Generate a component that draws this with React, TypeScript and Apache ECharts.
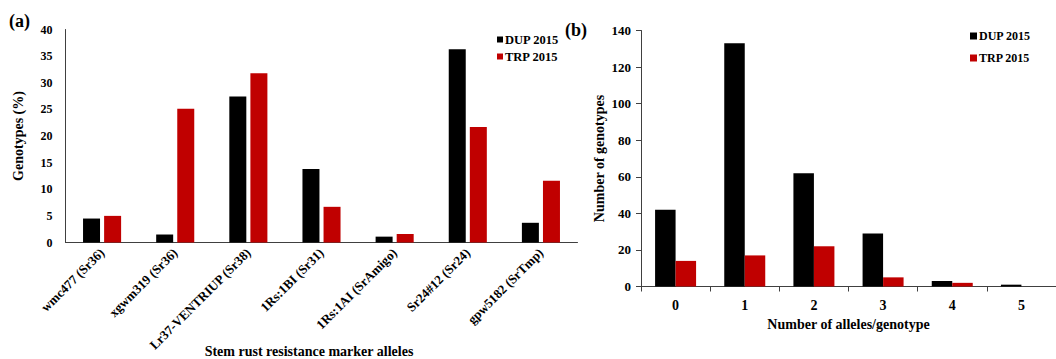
import React, { useEffect, useRef } from "react";
import * as echarts from "echarts";

const markerAlleles = [
  "wmc477 (Sr36)",
  "xgwm319 (Sr36)",
  "Lr37-VENTRIUP (Sr38)",
  "1Rs:1BI (Sr31)",
  "1Rs:1AI (SrAmigo)",
  "Sr24#12 (Sr24)",
  "gpw5182 (SrTmp)",
];
const dupPercent = [4.5, 1.5, 27.4, 13.8, 1.1, 36.3, 3.7];
const trpPercent = [5.0, 25.1, 31.8, 6.7, 1.6, 21.7, 11.6];

const allelesPerGenotype = ["0", "1", "2", "3", "4", "5"];
const dupCounts = [42, 133, 62, 29, 3, 1];
const trpCounts = [14, 17, 22, 5, 2, 0];

const seriesNames = ["DUP 2015", "TRP 2015"];
const FONT = "'Liberation Serif', 'Times New Roman', serif";
const AXIS_COLOR = "#404040";

export default function App() {
  const ref = useRef<HTMLDivElement>(null);
  useEffect(() => {
    if (!ref.current) return;
    const chart = echarts.init(ref.current, null, { renderer: "svg" });
    const bold = { fontFamily: FONT, fontWeight: "bold" as const, color: "#000" };
    chart.setOption({
      animation: false,
      backgroundColor: "#fff",
      textStyle: { fontFamily: FONT },
      grid: [
        { left: 65.5, top: 29.5, width: 512, height: 213 },
        { left: 641, top: 30.5, width: 425, height: 256 },
      ],
      legend: [
        {
          data: seriesNames,
          orient: "vertical",
          left: 492,
          top: 28,
          itemWidth: 6,
          itemHeight: 6,
          itemGap: 4,
          icon: "rect",
          textStyle: { ...bold, fontSize: 12.5, padding: [0, 0, 0, -3] },
        },
        {
          data: seriesNames,
          orient: "vertical",
          left: 965,
          top: 25,
          itemWidth: 7,
          itemHeight: 7,
          itemGap: 10,
          icon: "rect",
          textStyle: { ...bold, fontSize: 12, padding: [0, 0, 0, -3] },
        },
      ],
      xAxis: [
        {
          type: "category",
          gridIndex: 0,
          data: markerAlleles,
          axisLine: { lineStyle: { color: AXIS_COLOR } },
          axisTick: { show: false },
          axisLabel: { ...bold, fontSize: 13, rotate: 45, interval: 0, margin: 8 },
        },
        {
          type: "category",
          gridIndex: 1,
          data: allelesPerGenotype,
          axisLine: { lineStyle: { color: AXIS_COLOR } },
          axisTick: { show: true, length: 5, lineStyle: { color: AXIS_COLOR } },
          axisLabel: { ...bold, fontSize: 14, margin: 12 },
          name: "Number of alleles/genotype",
          nameLocation: "middle",
          nameGap: 31,
          nameTextStyle: { ...bold, fontSize: 14 },
        },
      ],
      yAxis: [
        {
          type: "value",
          gridIndex: 0,
          min: 0,
          max: 40,
          interval: 5,
          splitLine: { show: false },
          axisLine: { show: true, lineStyle: { color: AXIS_COLOR } },
          axisTick: { show: false },
          axisLabel: { ...bold, fontSize: 12, margin: 13 },
          name: "Genotypes (%)",
          nameLocation: "middle",
          nameGap: 40,
          nameTextStyle: { ...bold, fontSize: 14 },
        },
        {
          type: "value",
          gridIndex: 1,
          min: 0,
          max: 140,
          interval: 20,
          splitLine: { show: false },
          axisLine: { show: true, lineStyle: { color: AXIS_COLOR } },
          axisTick: { show: true, length: 5, lineStyle: { color: AXIS_COLOR } },
          axisLabel: { ...bold, fontSize: 13, margin: 10 },
          name: "Number of genotypes",
          nameLocation: "middle",
          nameGap: 35,
          nameTextStyle: { ...bold, fontSize: 14 },
        },
      ],
      series: [
        {
          name: seriesNames[0],
          type: "bar",
          xAxisIndex: 0,
          yAxisIndex: 0,
          data: dupPercent,
          barWidth: 17,
          barGap: "24%",
          itemStyle: { color: "#000000" },
        },
        {
          name: seriesNames[1],
          type: "bar",
          xAxisIndex: 0,
          yAxisIndex: 0,
          data: trpPercent,
          barWidth: 17,
          barGap: "24%",
          itemStyle: { color: "#c00000" },
        },
        {
          name: seriesNames[0],
          type: "bar",
          xAxisIndex: 1,
          yAxisIndex: 1,
          data: dupCounts,
          barWidth: 20.5,
          barGap: "0%",
          itemStyle: { color: "#000000" },
        },
        {
          name: seriesNames[1],
          type: "bar",
          xAxisIndex: 1,
          yAxisIndex: 1,
          data: trpCounts,
          barWidth: 20.5,
          barGap: "0%",
          itemStyle: { color: "#c00000" },
        },
      ],
      graphic: [
        {
          type: "text",
          left: 9,
          top: 12,
          style: { text: "(a)", font: `bold 18px ${FONT}`, fill: "#000" },
        },
        {
          type: "text",
          left: 565,
          top: 21,
          style: { text: "(b)", font: `bold 18px ${FONT}`, fill: "#000" },
        },
        {
          type: "text",
          x: 309,
          y: 351,
          style: {
            text: "Stem rust resistance marker alleles",
            font: `bold 14px ${FONT}`,
            fill: "#000",
            align: "center",
            verticalAlign: "middle",
          },
        },
      ],
    });
    return () => chart.dispose();
  }, []);
  return (
    <div
      ref={ref}
      style={{ position: "fixed", left: 0, top: 0, width: 1056, height: 359, background: "#fff" }}
    />
  );
}
